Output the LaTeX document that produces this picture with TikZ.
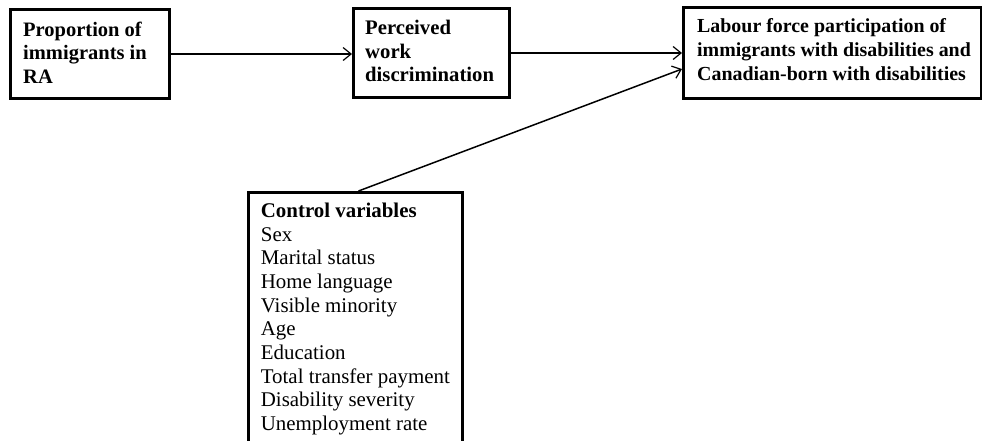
\documentclass[tikz,border=0pt]{standalone}
\usepackage{fontspec}
\setmainfont{Liberation Serif}
\usetikzlibrary{arrows.meta,calc}
\begin{document}
\begin{tikzpicture}[x=1pt,y=-1pt,
  boxed/.style={draw=black,line width=3pt,rectangle,inner sep=0pt,anchor=north west},
  txt/.style={anchor=north west,inner sep=0pt,align=left,font=\fontsize{20.9}{23.7}\selectfont},
  link/.style={line width=1.5pt,-{Straight Barb[length=8pt,width=13pt,line width=1.2pt]}}]
\clip (0,0) rectangle (982,440);
\useasboundingbox (0,0) rectangle (982,440);
\node[boxed,minimum width=159pt,minimum height=89pt] (prop) at (9,8) {};
\node[boxed,minimum width=156pt,minimum height=89pt] (perc) at (352,7) {};
\node[boxed,minimum width=298pt,minimum height=91pt] (lab) at (682,6) {};
\node[boxed,minimum width=214pt,minimum height=257pt] (ctrl) at (247,191) {};
\node[txt,font=\fontsize{20.5}{23.2}\selectfont\bfseries] (tprop) at (23,22.1) {Proportion of\\immigrants in\\RA};
\node[txt,font=\fontsize{20.7}{23.5}\selectfont\bfseries] (tperc) at (365,20) {Perceived\\work\\discrimination};
\node[txt,font=\fontsize{19.9}{24}\selectfont\bfseries] (tlab) at (697,18.5) {Labour force participation of\\immigrants with disabilities and\\Canadian-born with disabilities};
\node[txt] (tctrl) at (260.7,202.6) {\textbf{Control variables}\\Sex\\Marital status\\Home language\\Visible minority\\Age\\Education\\Total transfer payment\\Disability severity\\Unemployment rate};
\draw[link] (prop.east) -- (prop.east -| perc.west);
\draw[link] (perc.east) -- (perc.east -| lab.west);
\draw[link] ($(ctrl.north)+(3,0)$) -- ($(lab.west)+(0,16)$);
\end{tikzpicture}
\end{document}
